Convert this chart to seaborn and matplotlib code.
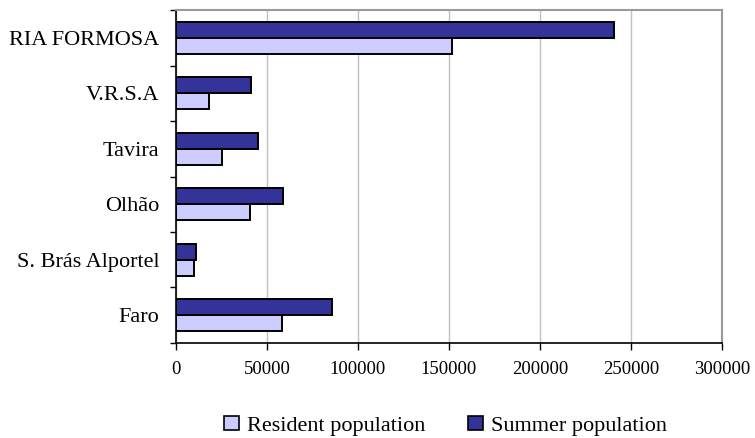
import matplotlib
matplotlib.use("Agg")
import matplotlib.pyplot as plt
from matplotlib.patches import Patch
from matplotlib.ticker import FixedLocator, NullFormatter
import seaborn as sns
import pandas as pd

# Population per area (top to bottom as drawn)
areas = ["RIA FORMOSA", "V.R.S.A", "Tavira", "Olhão", "S. Brás Alportel", "Faro"]
resident = [151700, 18000, 25400, 40800, 10000, 58400]
summer = [241000, 41000, 45200, 58600, 11200, 86000]
series = ["Summer population", "Resident population"]
colors = {"Summer population": "#333399", "Resident population": "#CCCCFF"}
x_ticks = [0, 50000, 100000, 150000, 200000, 250000, 300000]

df = pd.DataFrame({
    "area": areas * 2,
    "value": summer + resident,
    "series": [series[0]] * len(areas) + [series[1]] * len(areas),
})

sns.set_theme(style="white")
plt.rcParams["font.family"] = ["Liberation Serif", "DejaVu Serif"]
plt.rcParams["text.color"] = "black"
plt.rcParams["xtick.color"] = "black"
plt.rcParams["ytick.color"] = "black"

fig = plt.figure(figsize=(7.55, 4.38), dpi=100)
ax = fig.add_axes([0.233, 0.217, 0.723, 0.76])

sns.barplot(
    data=df, y="area", x="value", hue="series", order=areas,
    hue_order=series, palette=colors, orient="h", width=0.58,
    edgecolor="black", linewidth=1.4, saturation=1, legend=False, ax=ax,
)

ax.set_xlim(0, 300000)
ax.set_ylim(len(areas) - 0.5, -0.5)
ax.set_xticks(x_ticks)
ax.set_xticklabels([str(v) for v in x_ticks], fontsize=13.5, color="black")
ax.set_xlabel("")
ax.set_ylabel("")

# Category labels centred, tick marks on the category boundaries
ax.set_yticks(range(len(areas)))
ax.set_yticklabels(areas, fontsize=16, color="black")
ax.tick_params(axis="y", which="major", length=0, pad=12)
ax.yaxis.set_minor_locator(FixedLocator([i - 0.5 for i in range(len(areas) + 1)]))
ax.yaxis.set_minor_formatter(NullFormatter())
ax.tick_params(axis="y", which="minor", left=True, length=4, width=1, color="black", direction="out")
ax.tick_params(axis="x", which="major", bottom=True, length=5, width=1, color="black",
               direction="out", pad=8)

ax.grid(axis="x", color="#C0C0C0", linewidth=1)
ax.set_axisbelow(True)
for side in ("left", "bottom"):
    ax.spines[side].set_color("black")
    ax.spines[side].set_linewidth(1.2)
for side in ("top", "right"):
    ax.spines[side].set_color("#999999")
    ax.spines[side].set_linewidth(1.5)

handles = [Patch(facecolor=colors["Resident population"], edgecolor="black", linewidth=1.2),
           Patch(facecolor=colors["Summer population"], edgecolor="black", linewidth=1.2)]
leg = fig.legend(handles, ["Resident population", "Summer population"],
                 loc="center", bbox_to_anchor=(0.59, 0.028), ncol=2, frameon=False,
                 fontsize=16, handlelength=0.65, handleheight=0.65, handletextpad=0.36,
                 columnspacing=1.95)
for t in leg.get_texts():
    t.set_color("black")

fig.savefig("out.png", dpi=100)
